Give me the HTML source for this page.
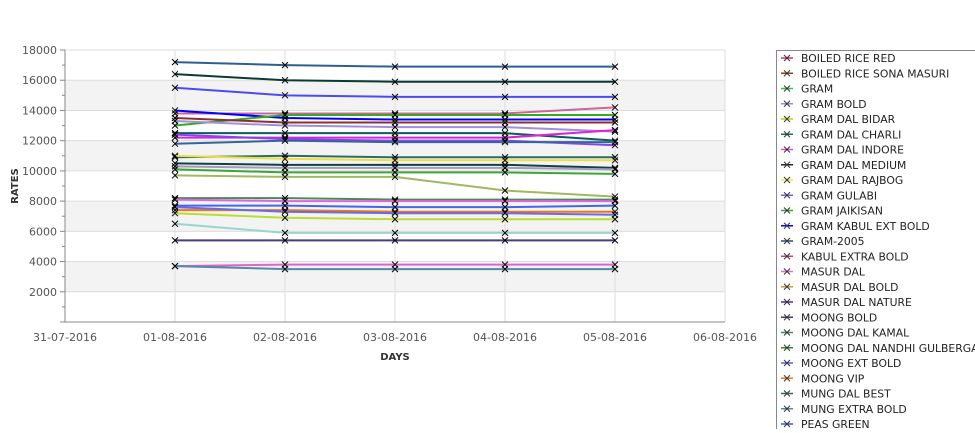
<!DOCTYPE html>
<html><head><meta charset="utf-8"><style>
body{margin:0;background:#fff;width:975px;height:429px;overflow:hidden;font-family:"DejaVu Sans","Liberation Sans",sans-serif}
svg text{font-family:"DejaVu Sans","Liberation Sans",sans-serif}
</style></head><body>
<svg id="chart" width="975" height="429" xmlns="http://www.w3.org/2000/svg">
<g id="bands"></g><g id="grid"></g><g id="axes"></g><g id="series"></g>
<text transform="translate(18,186) rotate(-90)" text-anchor="middle" font-size="10" font-weight="bold" fill="#333">RATES</text>
<text x="395" y="360" text-anchor="middle" font-size="10" font-weight="bold" fill="#333">DAYS</text>
<rect x="776.5" y="50.5" width="210" height="390" fill="#fff" stroke="#888"/>
<g id="legend"></g>
</svg>
<script>
const dates=["31-07-2016","01-08-2016","02-08-2016","03-08-2016","04-08-2016","05-08-2016","06-08-2016"];
const yTicks=[2000,4000,6000,8000,10000,12000,14000,16000,18000];
const names=["BOILED RICE RED","BOILED RICE SONA MASURI","GRAM","GRAM BOLD","GRAM DAL BIDAR","GRAM DAL CHARLI","GRAM DAL INDORE","GRAM DAL MEDIUM","GRAM DAL RAJBOG","GRAM GULABI","GRAM JAIKISAN","GRAM KABUL EXT BOLD","GRAM-2005","KABUL EXTRA BOLD","MASUR DAL","MASUR DAL BOLD","MASUR DAL NATURE","MOONG BOLD","MOONG DAL KAMAL","MOONG DAL NANDHI GULBERGA","MOONG EXT BOLD","MOONG VIP","MUNG DAL BEST","MUNG EXTRA BOLD","PEAS GREEN"];
const legendColors=["#dd2288","#8b4513","#22cc44","#9988dd","#cccc00","#226666","#ee44ee","#222244","#eeee44","#6666ee","#33aa22","#0000ff","#334488","#cc4477","#ee66cc","#cc9933","#5522aa","#443388","#4a8a5a","#338833","#4466ee","#ee7711","#2a6e66","#5588aa","#3355ee"];
const s1=[17200,17000,16900,16900,16900];
const s2=[16400,16000,15900,15900,15900];
const s3=[15500,15000,14900,14900,14900];
const s4=[13800,13800,13800,13800,14200];
const s5=[14000,13500,13400,13400,13400];
const s6=[13000,13700,13700,13700,13700];
const s7=[13500,13200,13200,13200,13200];
const s8=[13300,13000,12900,12900,12600];
const s9=[12500,12500,12500,12500,12000];
const s10=[12200,12200,12200,12200,12700];
const s11=[12400,12100,12000,12000,11700];
const s12=[11800,12000,11900,11900,11900];
const s13=[10900,11000,10900,10900,10900];
const s14=[11000,10800,10700,10700,10700];
const s15=[10500,10400,10400,10400,10200];
const s16=[10300,10200,10200,10200,10100];
const s17=[10100,9900,9900,9900,9800];
const s18=[9700,9600,9600,8700,8300];
const s19=[8200,8200,8100,8100,8100];
const s20=[8100,8000,8000,8000,8000];
const s21=[7700,7700,7600,7600,7700];
const s22=[7400,7400,7300,7300,7300];
const s23=[7600,7300,7200,7200,7100];
const s24=[7200,6900,6800,6800,6800];
const s25=[6500,5900,5900,5900,5900];
const s26=[5400,5400,5400,5400,5400];
const s27=[3700,3800,3800,3800,3800];
const s28=[3700,3500,3500,3500,3500];
const seriesData=[s1,s2,s3,s4,s5,s6,s7,s8,s9,s10,s11,s12,s13,s14,s15,s16,s17,s18,s19,s20,s21,s22,s23,s24,s25,s26,s27,s28];
const seriesColors=["#2e5f94","#0b3a33","#4b4bf0","#cc6699","#0000ff","#33aa22","#8b3030","#9f8fe0","#0b5c55","#dd22dd","#8844ee","#336699","#2a6e66","#eedd44","#0b4444","#aa99bb","#3aa63a","#a0b860","#4a8a5a","#dd66dd","#4466ee","#ee7711","#6a6ae8","#bbdd33","#99d5cc","#4a3a80","#dd66cc","#5588aa"];
const NS="http://www.w3.org/2000/svg";
const X0=65,X1=725,Y0=322,Y1=50,YMAX=18000;
const xs=i=>X0+(X1-X0)*i/(dates.length-1);
const ys=v=>Y0-(Y0-Y1)*v/YMAX;
function mk(t,a,p){const e=document.createElementNS(NS,t);for(const k in a)e.setAttribute(k,a[k]);p.appendChild(e);return e;}
const bands=document.getElementById('bands'),grid=document.getElementById('grid'),axes=document.getElementById('axes'),ser=document.getElementById('series'),leg=document.getElementById('legend');
[[14000,16000],[10000,12000],[6000,8000],[2000,4000]].forEach(b=>{const r=mk('rect',{x:X0,y:ys(b[1]),width:X1-X0,height:ys(b[0])-ys(b[1]),fill:'#f3f3f3'},bands);

});
yTicks.forEach(v=>{const l=mk('line',{x1:X0,x2:X1,y1:ys(v),y2:ys(v),stroke:'#ddd'},grid);


const t=mk('text',{x:57,y:ys(v)+4,'text-anchor':'end','font-size':11,fill:'#555'},axes);t.textContent=v;


mk('line',{x1:X0-5,x2:X0,y1:ys(v),y2:ys(v),stroke:'#888'},axes);});
for(let v=1000;v<YMAX;v+=2000)mk('line',{x1:X0-3,x2:X0,y1:ys(v),y2:ys(v),stroke:'#888'},axes);
dates.forEach((d,i)=>{const l=mk('line',{x1:xs(i),x2:xs(i),y1:Y1,y2:Y0,stroke:'#ddd'},grid);


const t=mk('text',{x:xs(i),y:341,'text-anchor':'middle','font-size':11,fill:'#555'},axes);t.textContent=d;

});
mk('line',{x1:X0,x2:X0,y1:Y1,y2:Y0,stroke:'#888'},axes);
mk('line',{x1:X0-5,x2:X1,y1:Y0,y2:Y0,stroke:'#888'},axes);
function cross(x,y,g,c){mk('path',{d:`M${x-3} ${y-3}L${x+3} ${y+3}M${x-3} ${y+3}L${x+3} ${y-3}`,stroke:c,'stroke-width':1},g);}
seriesData.forEach((arr,si)=>{const g=mk('g',{},ser);


const pts=arr.map((v,i)=>xs(i+1)+','+ys(v)).join(' ');
mk('polyline',{points:pts,fill:'none',stroke:seriesColors[si],'stroke-width':2},g);
arr.forEach((v,i)=>cross(xs(i+1),ys(v),g,'#000'));});
names.forEach((n,i)=>{const y=58+i*15.25;const g=mk('g',{},leg);


mk('line',{x1:781,x2:793,y1:y,y2:y,stroke:legendColors[i],'stroke-width':1.5},g);
cross(787,y,g,'#333');
const t=mk('text',{x:801,y:y+4,'font-size':10.8,fill:'#222'},g);t.textContent=n;});
</script>
</body></html>
